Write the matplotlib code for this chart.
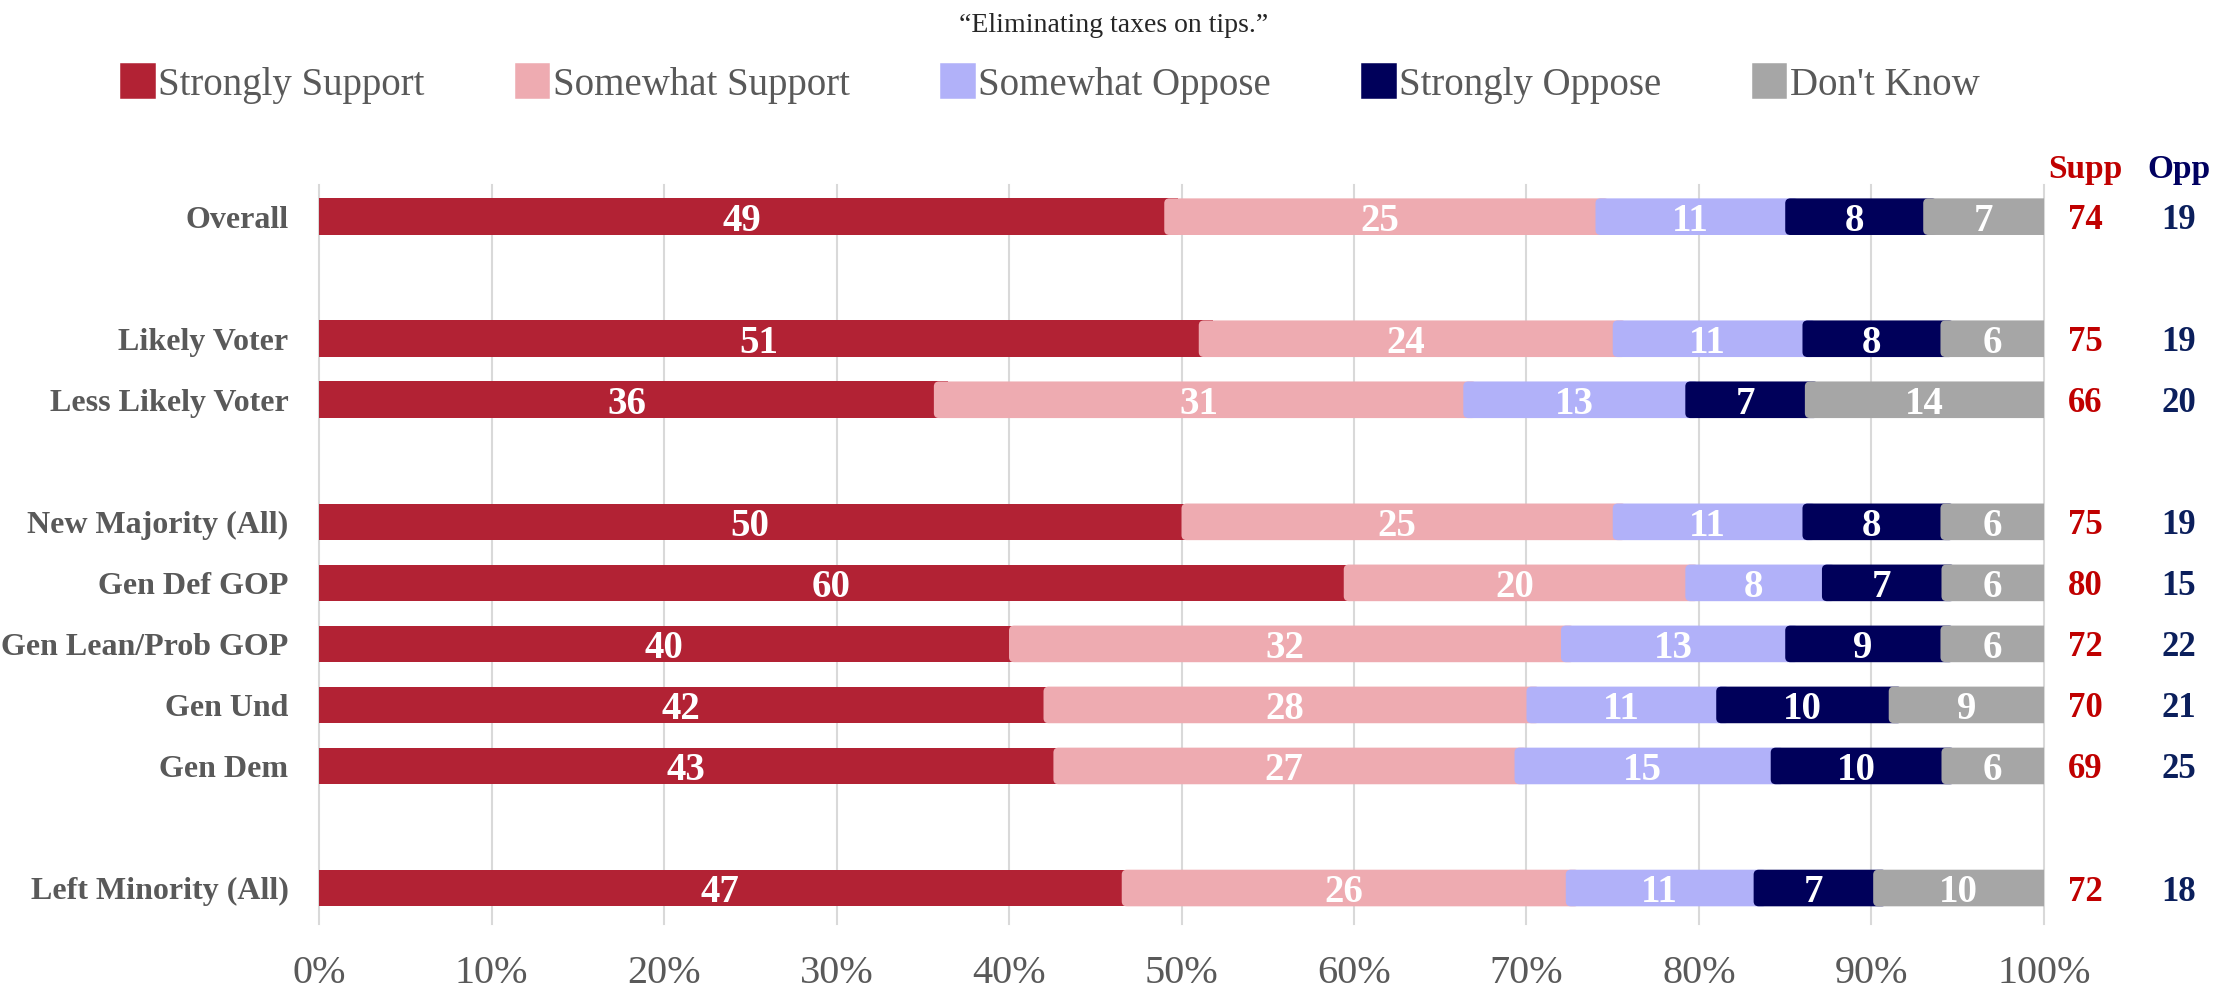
import numpy as np
import matplotlib.pyplot as plt
from matplotlib.patches import FancyBboxPatch, Patch

plt.rcParams['font.family'] = ['Liberation Serif', 'DejaVu Serif']

# Rows top to bottom; empty strings are spacer rows between groups
rows = ["Overall", "",
        "Likely Voter", "Less Likely Voter", "",
        "New Majority (All)", "Gen Def GOP", "Gen Lean/Prob GOP", "Gen Und", "Gen Dem", "",
        "Left Minority (All)"]

series = ["Strongly Support", "Somewhat Support", "Somewhat Oppose", "Strongly Oppose", "Don't Know"]
colors = ["#B22234", "#EEABB1", "#B1B1F9", "#00005A", "#A6A6A6"]

strongly_support = [49, 51, 36, 50, 60, 40, 42, 43, 47]
somewhat_support = [25, 24, 31, 25, 20, 32, 28, 27, 26]
somewhat_oppose = [11, 11, 13, 11, 8, 13, 11, 15, 11]
strongly_oppose = [8, 8, 7, 8, 7, 9, 10, 10, 7]
dont_know = [7, 6, 14, 6, 6, 6, 9, 6, 10]

supp_total = [74, 75, 66, 75, 80, 72, 70, 69, 72]
opp_total = [19, 19, 20, 19, 15, 22, 21, 25, 18]

gray = "#595959"
supp_color = "#C00000"
opp_color = "#0B1F5C"

fig = plt.figure(figsize=(22.28, 9.89), dpi=100)
ax = fig.add_axes([0.1432, 0.0657, 0.7742, 0.7473])

ypos = [i for i, r in enumerate(rows) if r]
data = np.array([strongly_support, somewhat_support, somewhat_oppose,
                 strongly_oppose, dont_know]).T
shares = data / data.sum(axis=1)[:, None] * 100

bar_h = 0.6
for j, color in enumerate(colors):
    lefts = shares[:, :j].sum(axis=1)
    bars = ax.barh(ypos, shares[:, j], left=lefts, height=bar_h, color=color)
    for bar, v in zip(bars, data[:, j]):
        x, y = bar.get_x(), bar.get_y()
        w, h = bar.get_width(), bar.get_height()
        bar.remove()
        # rounded segments overlap the previous one a little; axes clip squares off the end
        style = "square,pad=0" if j == 0 else "round,pad=0,rounding_size=0.3"
        box = FancyBboxPatch((x, y), w + 0.8, h, boxstyle=style,
                             mutation_aspect=0.27, fc=color, ec="none", zorder=2)
        ax.add_patch(box)
        ax.text(x + w / 2, y + h / 2, str(v), ha="center", va="center_baseline",
                color="white", fontsize=28, fontweight="bold", zorder=5)

# Net support / oppose columns
ax.text(102.4, -0.78, "Supp", ha="center", va="center", color=supp_color,
        fontsize=24, fontweight="bold", clip_on=False)
ax.text(107.8, -0.78, "Opp", ha="center", va="center", color="#000060",
        fontsize=24, fontweight="bold", clip_on=False)
for y, s, o in zip(ypos, supp_total, opp_total):
    ax.text(102.4, y, str(s), ha="center", va="center_baseline", color=supp_color,
            fontsize=25, fontweight="bold", clip_on=False)
    ax.text(107.8, y, str(o), ha="center", va="center_baseline", color=opp_color,
            fontsize=25, fontweight="bold", clip_on=False)

ax.set_xlim(0, 100)
ax.set_ylim(len(rows) - 1 + 0.59, -0.52)
ax.set_xticks(range(0, 101, 10), labels=[f"{t}%" for t in range(0, 101, 10)])
ax.set_yticks(ypos, labels=[rows[i] for i in ypos])
ax.tick_params(axis="x", length=0, pad=22, labelsize=29, labelcolor=gray)
ax.tick_params(axis="y", length=0, pad=22, labelsize=23, labelcolor=gray)
for lbl in ax.get_yticklabels():
    lbl.set_fontweight("bold")
for s in ax.spines.values():
    s.set_visible(False)
ax.grid(axis="x", color="#D9D9D9", linewidth=1.5, zorder=0)
ax.set_axisbelow(True)
for gl in ax.xaxis.get_gridlines():
    gl.set_clip_on(False)

fig.text(0.5, 1 - 26 / 989, "\u201cEliminating taxes on tips.\u201d", ha="center",
         va="center", fontsize=20, color="#262626")

handles = [Patch(facecolor=c, edgecolor=c, linewidth=4, joinstyle="round") for c in colors]
fig.legend(handles, series, loc="center", bbox_to_anchor=(0.472, 1 - 85 / 989),
           ncol=5, frameon=False, fontsize=28, handlelength=0.75, handleheight=0.8,
           handletextpad=0.15, columnspacing=2.4, labelcolor=gray)

fig.savefig("out.png", dpi=100)
